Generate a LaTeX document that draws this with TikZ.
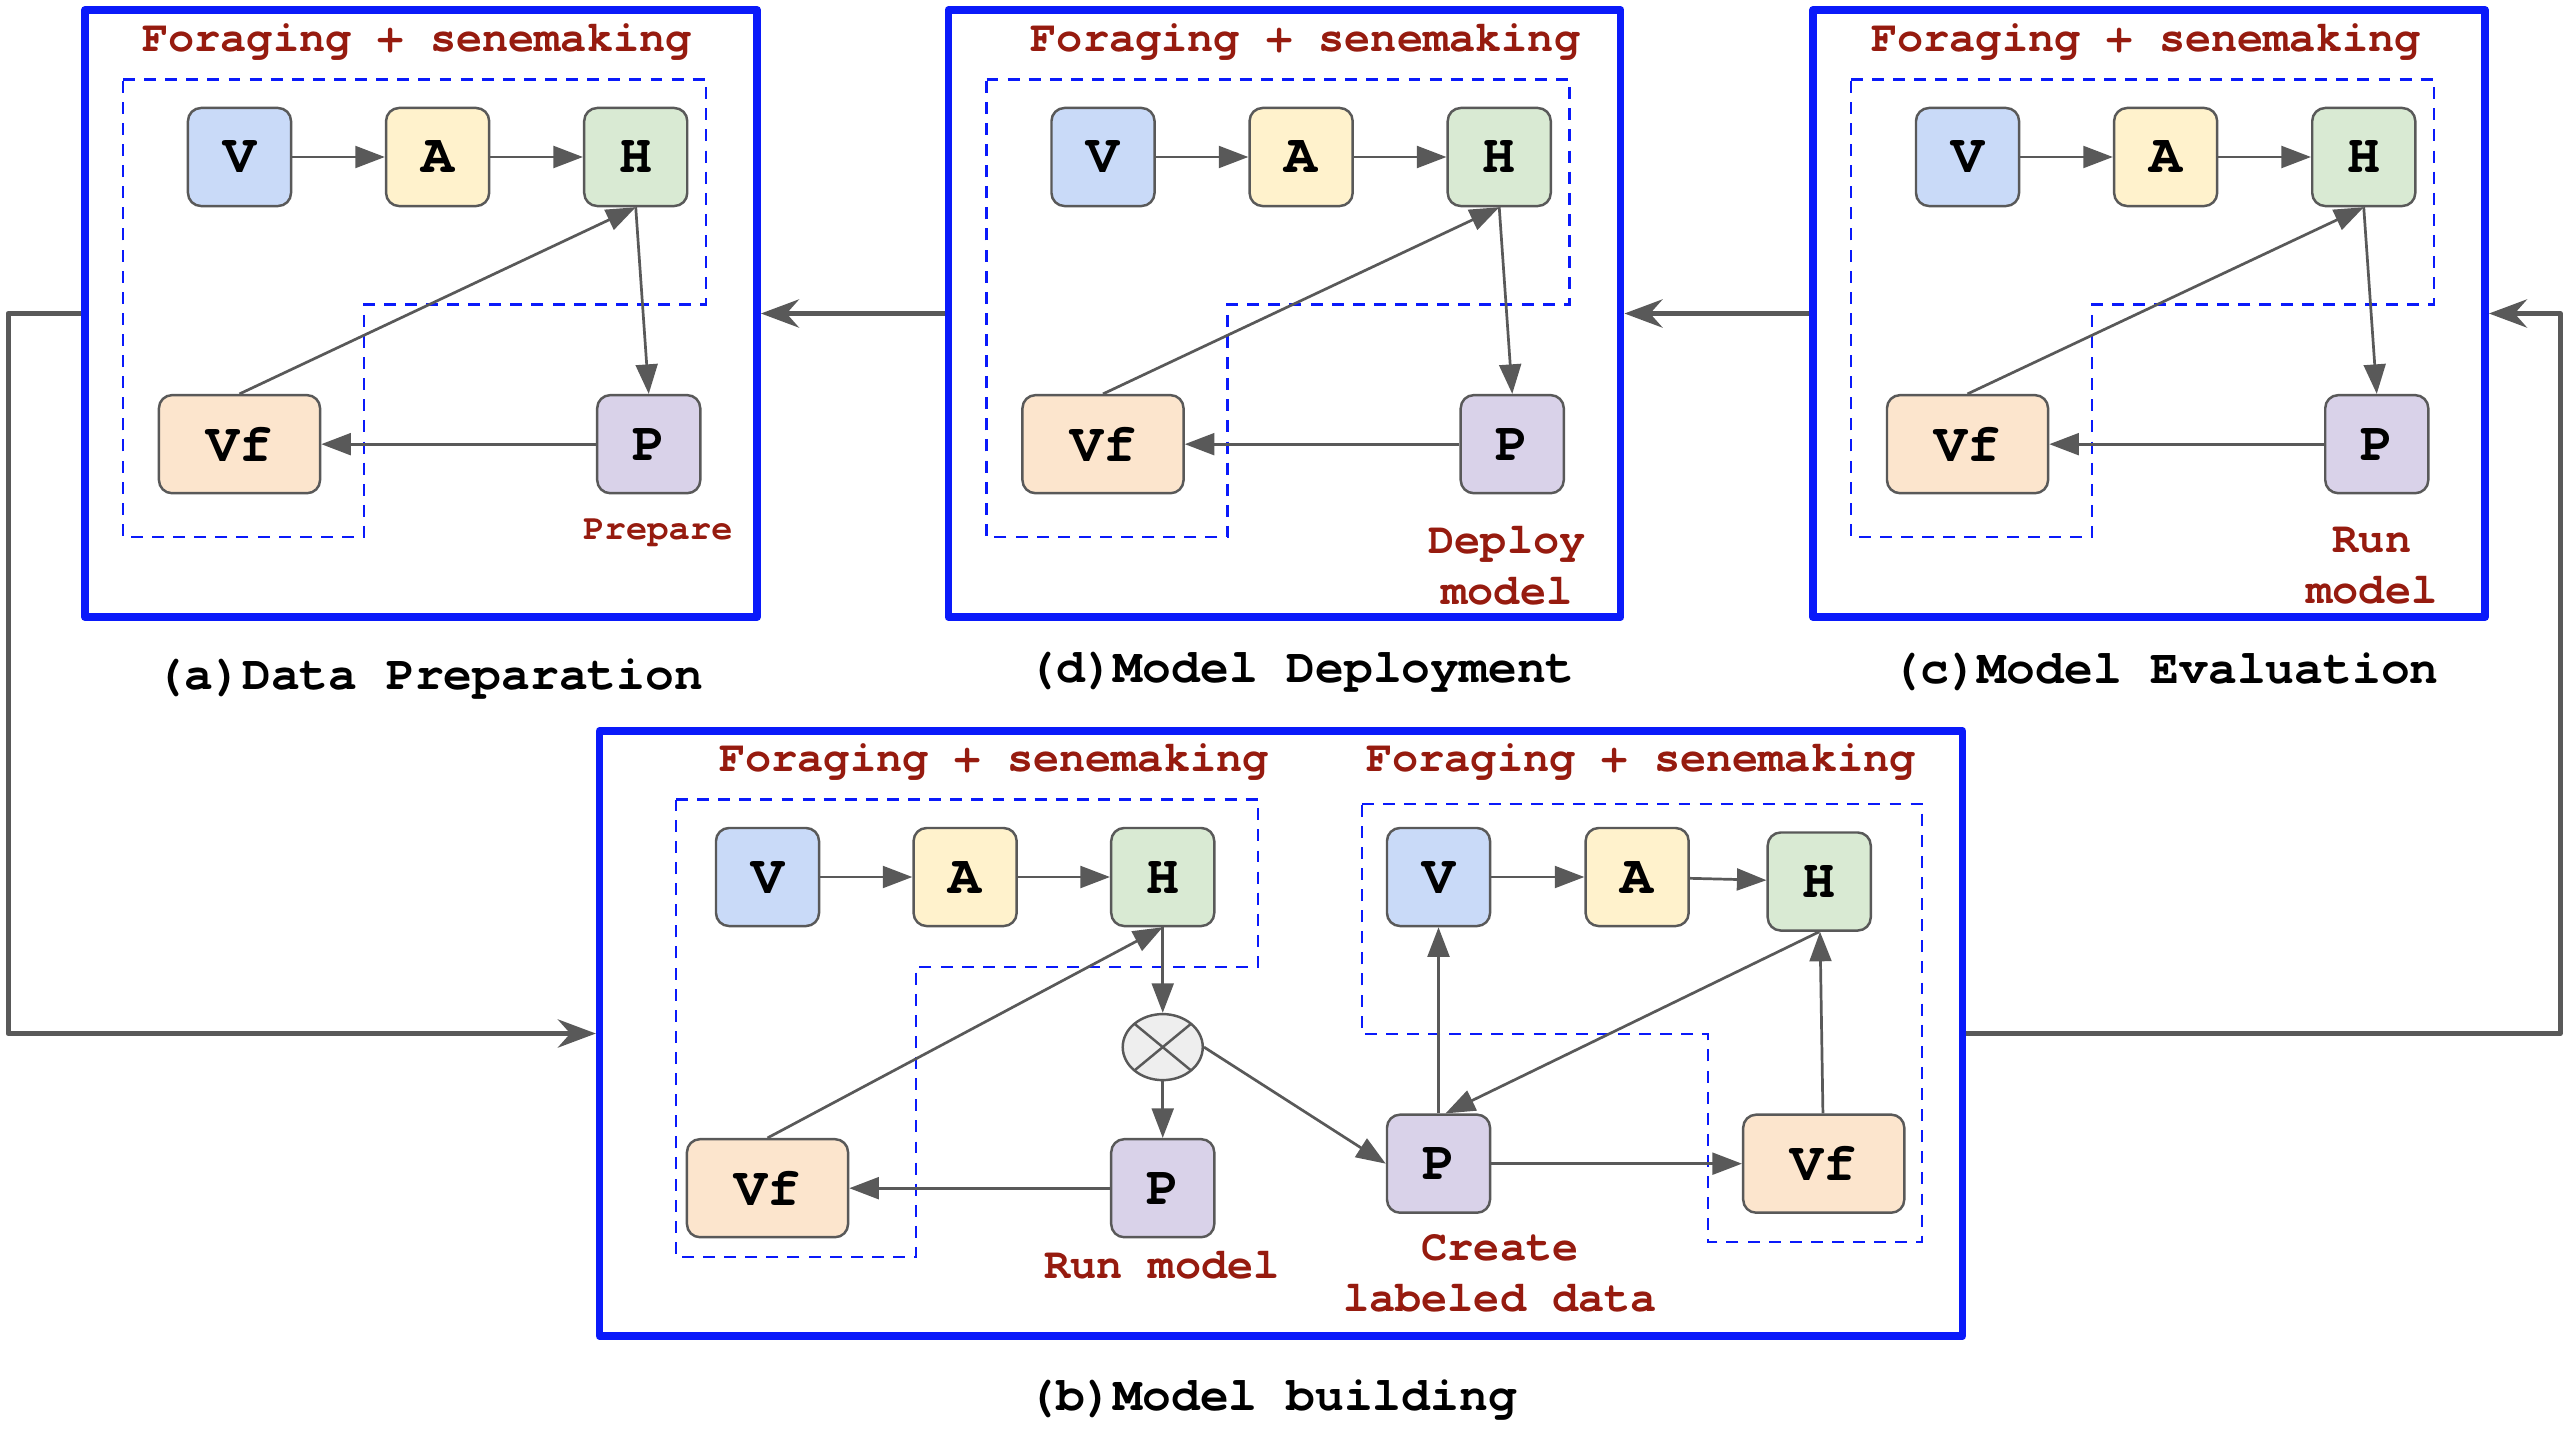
\documentclass[tikz,border=0pt]{standalone}
\usepackage{fontspec}
\setmonofont{TeX Gyre Cursor}
\usetikzlibrary{arrows.meta,positioning,shapes.geometric}

\definecolor{vcol}{HTML}{C9DAF8}
\definecolor{acol}{HTML}{FFF2CC}
\definecolor{hcol}{HTML}{D9EAD3}
\definecolor{pcol}{HTML}{D9D2E9}
\definecolor{vfcol}{HTML}{FCE5CD}
\definecolor{xgray}{HTML}{EEEEEE}
\definecolor{edgecol}{HTML}{595959}
\definecolor{boxblue}{HTML}{0A1AFA}
\definecolor{labred}{HTML}{961B0F}

\begin{document}
\begin{tikzpicture}[x=0.01cm,y=-0.01cm,node distance=1.98cm,on grid,
    unit/.style={draw=edgecol,line width=0.7pt,rounded corners=0.13cm,minimum width=1.03cm,
      minimum height=0.98cm,inner sep=0pt,font=\ttfamily\bfseries\fontsize{15.6}{18}\selectfont},
    wide/.style={unit,minimum width=1.61cm},
    merge/.style={ellipse,draw=edgecol,fill=xgray,line width=0.7pt,minimum width=0.8cm,
      minimum height=0.66cm,inner sep=0pt,
      path picture={\draw[edgecol,line width=0.7pt]
        (path picture bounding box.north west) -- (path picture bounding box.south east)
        (path picture bounding box.south west) -- (path picture bounding box.north east);}},
    panel/.style={draw=boxblue,line width=2.13pt,line join=round,minimum width=6.72cm,
      minimum height=6.07cm,inner sep=0pt},
    group/.style={draw=boxblue,line width=0.6pt,dash pattern=on 3.4pt off 2.6pt},
    title/.style={text=labred,align=center,font=\ttfamily\bfseries\fontsize{12.4}{14.6}\selectfont},
    small/.style={text=labred,font=\ttfamily\bfseries\fontsize{10.1}{12}\selectfont},
    caption/.style={font=\ttfamily\bfseries\fontsize{13.65}{16}\selectfont},
    link/.style={edgecol,line width=0.77pt,-{Triangle[length=8.4pt,width=6.2pt]}},
    flow/.style={draw=edgecol,line width=1.42pt,line join=round,-{Stealth[length=10.8pt,width=8pt]}}]
    \useasboundingbox (0,0) rectangle (2570,1430);

    % (a) data preparation
    \node[panel] (boxa) at (421,313.5) {};
    \node[title] (ta) at (417,42) {Foraging + senemaking};
    \draw[group] (123,79.5) -- (706,79.5) -- (706,304.5) -- (364,304.5) -- (364,537) -- (123,537) -- cycle;
    \node[unit,fill=vcol]   (Va)  at (239.5,157)                  {V};
    \node[unit,fill=acol]   (Aa)  [right=of Va]                    {A};
    \node[unit,fill=hcol]   (Ha)  [right=of Aa]                    {H};
    \node[wide,fill=vfcol]  (Vfa) [below=2.87cm of Va]             {Vf};
    \node[unit,fill=pcol]   (Pa)  [below right=2.87cm and 0.13cm of Ha] {P};
    \node[small] (la) at (658,533) {Prepare};
    \node[caption] (ca) at (429.5,679) {(a)Data Preparation};
    \path[link]
     (Va)        edge (Aa)
     (Aa)        edge (Ha)
     (Ha.south)  edge (Pa.north)
     (Pa)        edge (Vfa)
     (Vfa.north) edge (Ha.south);

    % (d) model deployment
    \node[panel] (boxd) at (1284.5,313.5) {};
    \node[title] (td) at (1305.5,42) {Foraging + senemaking};
    \draw[group] (986.5,79.5) -- (1569.5,79.5) -- (1569.5,304.5) -- (1227.5,304.5) -- (1227.5,537) -- (986.5,537) -- cycle;
    \node[unit,fill=vcol]   (Vd)  at (1103,157)                   {V};
    \node[unit,fill=acol]   (Ad)  [right=of Vd]                    {A};
    \node[unit,fill=hcol]   (Hd)  [right=of Ad]                    {H};
    \node[wide,fill=vfcol]  (Vfd) [below=2.87cm of Vd]             {Vf};
    \node[unit,fill=pcol]   (Pd)  [below right=2.87cm and 0.13cm of Hd] {P};
    \node[title] (ld) at (1507,565.5) {Deploy\\model};
    \node[caption] (cd) at (1301,672) {(d)Model Deployment};
    \path[link]
     (Vd)        edge (Ad)
     (Ad)        edge (Hd)
     (Hd.south)  edge (Pd.north)
     (Pd)        edge (Vfd)
     (Vfd.north) edge (Hd.south);

    % (c) model evaluation
    \node[panel] (boxc) at (2149,313.5) {};
    \node[title] (tc) at (2146,42) {Foraging + senemaking};
    \draw[group] (1851,79.5) -- (2434,79.5) -- (2434,304.5) -- (2092,304.5) -- (2092,537) -- (1851,537) -- cycle;
    \node[unit,fill=vcol]   (Vc)  at (1967.5,157)                 {V};
    \node[unit,fill=acol]   (Ac)  [right=of Vc]                    {A};
    \node[unit,fill=hcol]   (Hc)  [right=of Ac]                    {H};
    \node[wide,fill=vfcol]  (Vfc) [below=2.87cm of Vc]             {Vf};
    \node[unit,fill=pcol]   (Pc)  [below right=2.87cm and 0.13cm of Hc] {P};
    \node[title] (lc) at (2372,565.5) {Run\\model};
    \node[caption] (cc) at (2165,672) {(c)Model Evaluation};
    \path[link]
     (Vc)        edge (Ac)
     (Ac)        edge (Hc)
     (Hc.south)  edge (Pc.north)
     (Pc)        edge (Vfc)
     (Vfc.north) edge (Hc.south);

    % (b) model building
    \node[panel,minimum width=13.62cm,minimum height=6.05cm] (boxb) at (1281,1033.5) {};
    \node[title] (tb1) at (994,762)  {Foraging + senemaking};
    \node[title] (tb2) at (1641,762) {Foraging + senemaking};
    \draw[group] (676,799.5) -- (1258,799.5) -- (1258,967) -- (916,967) -- (916,1257) -- (676,1257) -- cycle;
    \draw[group] (1362,804) -- (1922,804) -- (1922,1242) -- (1708,1242) -- (1708,1034) -- (1362,1034) -- cycle;
    \node[unit,fill=vcol]   (Vb)  at (767.5,877)                  {V};
    \node[unit,fill=acol]   (Ab)  [right=1.975cm of Vb]            {A};
    \node[unit,fill=hcol]   (Hb)  [right=1.975cm of Ab]            {H};
    \node[merge]            (Xb)  [below=1.70cm of Hb]             {};
    \node[unit,fill=pcol]   (Pb)  [below=3.11cm of Hb]             {P};
    \node[wide,fill=vfcol]  (Vfb) [below=3.11cm of Vb]             {Vf};
    \node[title] (lb1) at (1162,1265) {Run model};
    \node[unit,fill=vcol]   (Vr)  at (1438.5,877)                 {V};
    \node[unit,fill=acol]   (Ar)  [right=1.985cm of Vr]            {A};
    \node[unit,fill=hcol]   (Hr)  [below right=0.045cm and 1.82cm of Ar] {H};
    \node[unit,fill=pcol]   (Pr)  [below=2.865cm of Vr]            {P};
    \node[wide,fill=vfcol]  (Vfr) [right=3.85cm of Pr]             {Vf};
    \node[title] (lb2) at (1500,1273) {Create\\labeled data};
    \node[caption] (cb) at (1272,1400) {(b)Model building};
    \path[link]
     (Vb)        edge (Ab)
     (Ab)        edge (Hb)
     (Hb)        edge (Xb)
     (Xb)        edge (Pb)
     (Pb)        edge (Vfb)
     (Vfb.north) edge (Hb.south)
     (Xb.east)   edge (Pr.west)
     (Vr)        edge (Ar)
     (Ar)        edge (Hr)
     (Pr)        edge (Vr)
     (Hr.south)  edge ([xshift=0.07cm]Pr.north)
     (Pr)        edge (Vfr)
     (Vfr)       edge (Hr);

    % cycle between the stages
    \draw[flow] (boxd.west) -- (boxa.east);
    \draw[flow] (boxc.west) -- (boxd.east);
    \draw[flow] (boxa.west) -- ++(-73,0) |- (boxb.west);
    \draw[flow] (boxb.east) -- ++(594,0) |- (boxc.east);
\end{tikzpicture}
\end{document}
